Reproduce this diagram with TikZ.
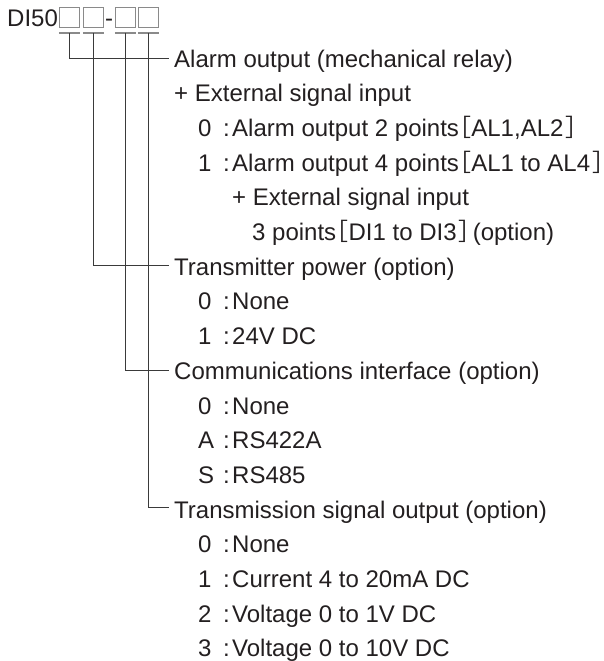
\documentclass[tikz,border=0pt]{standalone}
\usepackage{fontspec}
\setmainfont{Liberation Sans}
\newfontfamily\cjk{Noto Sans CJK JP}
\definecolor{txt}{HTML}{231F20}
\definecolor{boxgray}{HTML}{8A8A8A}
\definecolor{linegray}{HTML}{3A3A3A}
\newcommand\itm[2]{\makebox[25pt][l]{#1}\makebox[9pt][l]{:}#2}
% brackets: kern away the glyph side bearings so only the ink counts
\newcommand\lbr{{\cjk\kern5.5pt\kern-\XeTeXglyphbounds1 \XeTeXcharglyph"FF3B ［\kern-\XeTeXglyphbounds3 \XeTeXcharglyph"FF3B \kern0.8pt}}
\newcommand\rbr[1]{{\cjk\kern3pt\kern-\XeTeXglyphbounds1 \XeTeXcharglyph"FF3D ］\kern-\XeTeXglyphbounds3 \XeTeXcharglyph"FF3D \kern#1}}
\tikzset{
  lbl/.style={anchor=base west, inner sep=0pt, text=txt, font=\fontsize{24}{28}\selectfont},
  codebox/.style={draw=boxgray, line width=1.3pt, minimum width=20pt, minimum height=20pt, inner sep=0pt},
  uline/.style={draw=boxgray, line width=2pt},
  conn/.style={draw=linegray, line width=1pt}
}
\begin{document}
\begin{tikzpicture}[x=1pt,y=-1pt]
\useasboundingbox (0,0) rectangle (603,661);
\node[lbl] (title) at (7,27) {DI50};
\node[codebox] (b1) at (69.5,17.5) {};
\node[codebox] (b2) at (93.5,17.5) {};
\node[lbl, anchor=base] (dash) at (109,27) {-};
\node[codebox] (b3) at (125.5,17.5) {};
\node[codebox] (b4) at (148.5,17.5) {};
\foreach \b in {b1,b2,b3,b4}{
  \draw[uline] ([yshift=-4.5pt]\b.south west) -- ([yshift=-4.5pt]\b.south east);
}
% headings and items
\node[lbl] (h1) at (174,67.0) {Alarm output (mechanical relay)};
\node[lbl] (h1a) at (174,101.7) {+ External signal input};
\node[lbl] (i10) at (198,136.4) {\itm{0}{Alarm output 2 points\lbr AL1,AL2\rbr{0pt}}};
\node[lbl] (i11) at (198,171.1) {\itm{1}{Alarm output 4 points\lbr AL1 to AL4\rbr{0pt}}};
\node[lbl] (i11a) at (232,205.8) {+ External signal input};
\node[lbl] (i11b) at (252,240.5) {3 points\lbr DI1 to DI3\rbr{7pt}(option)};
\node[lbl] (h2) at (174,275.2) {Transmitter power (option)};
\node[lbl] (i20) at (198,309.9) {\itm{0}{None}};
\node[lbl] (i21) at (198,344.6) {\itm{1}{24V DC}};
\node[lbl] (h3) at (174,379.3) {Communications interface (option)};
\node[lbl] (i30) at (198,414.0) {\itm{0}{None}};
\node[lbl] (i3a) at (198,448.7) {\itm{A}{RS422A}};
\node[lbl] (i3s) at (198,483.4) {\itm{S}{RS485}};
\node[lbl] (h4) at (174,518.1) {Transmission signal output (option)};
\node[lbl] (i40) at (198,552.8) {\itm{0}{None}};
\node[lbl] (i41) at (198,587.5) {\itm{1}{Current 4 to 20mA DC}};
\node[lbl] (i42) at (198,622.2) {\itm{2}{Voltage 0 to 1V DC}};
\node[lbl] (i43) at (198,656.9) {\itm{3}{Voltage 0 to 10V DC}};
% connectors
\draw[conn] ([yshift=-4.5pt]b1.south) |- ([xshift=-5pt,yshift=8.5pt]h1.base west);
\draw[conn] ([yshift=-4.5pt]b2.south) |- ([xshift=-5pt,yshift=10pt]h2.base west);
\draw[conn] ([yshift=-4.5pt]b3.south) |- ([xshift=-5pt,yshift=8.8pt]h3.base west);
\draw[conn] ([yshift=-4.5pt]b4.south) |- ([xshift=-5pt,yshift=10.5pt]h4.base west);
\end{tikzpicture}
\end{document}
